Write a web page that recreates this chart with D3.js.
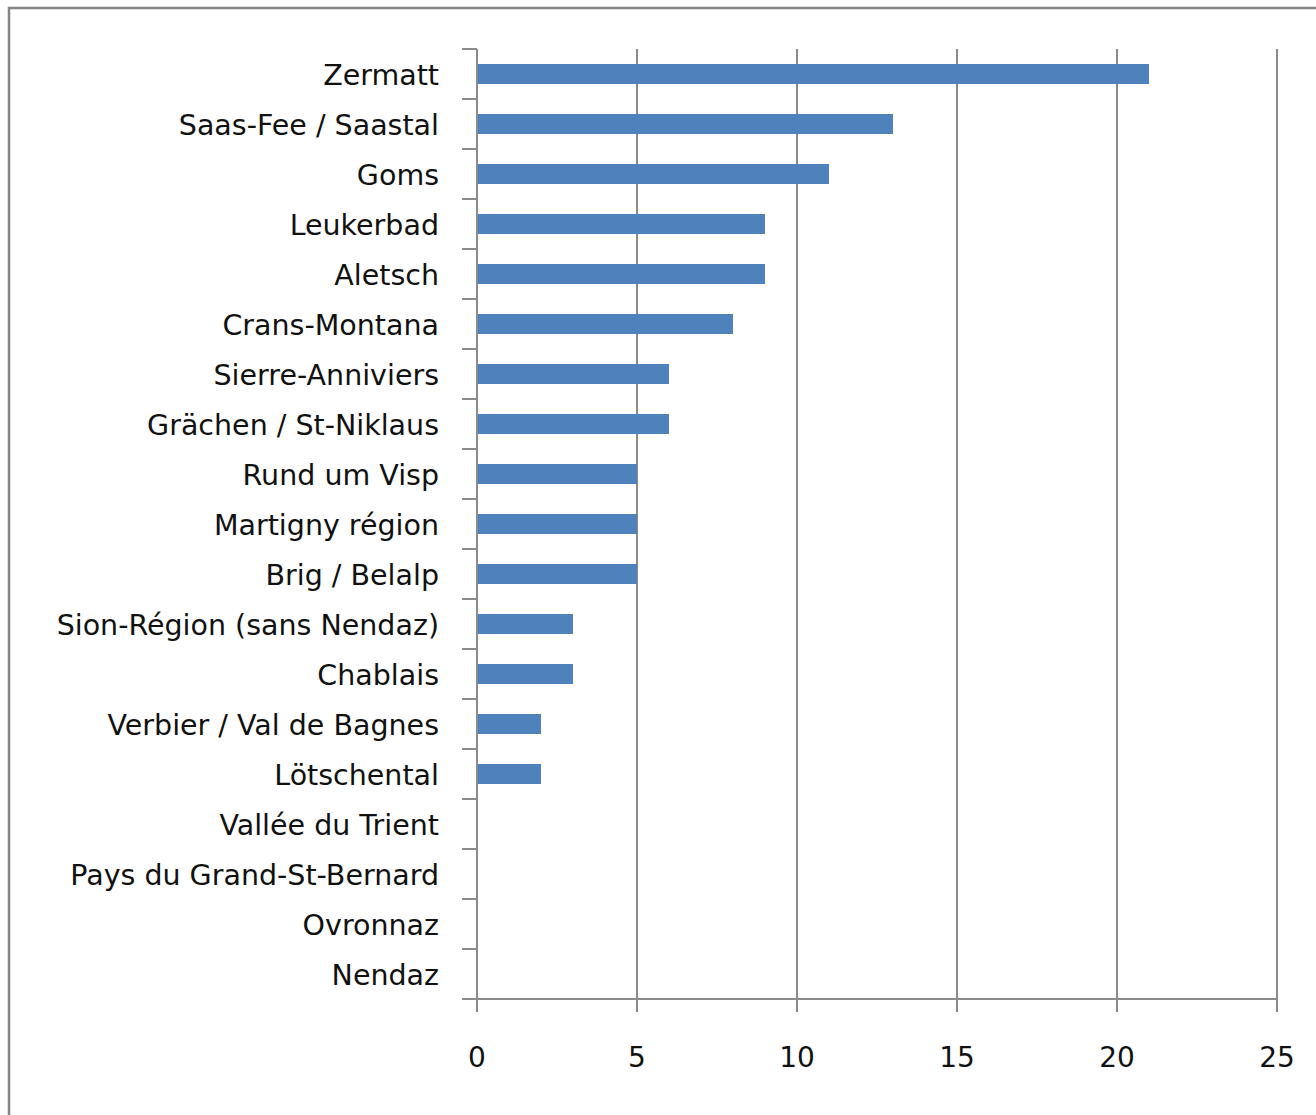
<!DOCTYPE html>
<html><head><meta charset="utf-8">
<script src="https://cdn.jsdelivr.net/npm/d3@7"></script>
<style>body{margin:0;background:#fff}</style>
</head><body>
<svg id="c" width="1316" height="1115"></svg>
<script>
const categories = ["Zermatt","Saas-Fee / Saastal","Goms","Leukerbad","Aletsch","Crans-Montana","Sierre-Anniviers","Grächen / St-Niklaus","Rund um Visp","Martigny région","Brig / Belalp","Sion-Région (sans Nendaz)","Chablais","Verbier / Val de Bagnes","Lötschental","Vallée du Trient","Pays du Grand-St-Bernard","Ovronnaz","Nendaz"];
const values = [21,13,11,9,9,8,6,6,5,5,5,3,3,2,2,0,0,0,0];
const xTicks = [0,5,10,15,20,25];

const svg = d3.select("#c");
const font = "'DejaVu Sans', Verdana, sans-serif";
// frame
svg.append("path").attr("d","M9,1115 V8 H1316").attr("fill","none").attr("stroke","#858585").attr("stroke-width",2.5);

const x = d3.scaleLinear().domain([0,25]).range([477,1277]);
const y = d3.scaleBand().domain(categories).range([49,999]).paddingInner(0.6).paddingOuter(0.3);
const yb = d3.scaleBand().domain(categories).range([49,999]);

// gridlines
svg.append("g").selectAll("line").data(xTicks.slice(1)).join("line")
  .attr("x1",d=>x(d)).attr("x2",d=>x(d)).attr("y1",49).attr("y2",1012)
  .attr("stroke","#8a8a8a").attr("stroke-width",2);

// bars
svg.append("g").selectAll("rect").data(values).join("rect")
  .attr("x",x(0)).attr("y",(d,i)=>y(categories[i])).attr("width",d=>x(d)-x(0)).attr("height",y.bandwidth())
  .attr("fill","#4F81BD");

// y axis line + ticks
svg.append("line").attr("x1",477).attr("x2",477).attr("y1",49).attr("y2",1012).attr("stroke","#8a8a8a").attr("stroke-width",2);
const bounds = categories.map(c=>yb(c)).concat([999]);
svg.append("g").selectAll("line").data(bounds).join("line")
  .attr("x1",462).attr("x2",477).attr("y1",d=>d).attr("y2",d=>d).attr("stroke","#8a8a8a").attr("stroke-width",2);
// x axis line
svg.append("line").attr("x1",462).attr("x2",1277).attr("y1",999).attr("y2",999).attr("stroke","#8a8a8a").attr("stroke-width",2);

// y labels
svg.append("g").selectAll("text").data(categories).join("text")
  .attr("x",439).attr("y",d=>yb(d)+yb.bandwidth()/2+1).attr("dy","0.35em")
  .attr("text-anchor","end").attr("font-family",font).attr("font-size",28.5).attr("fill","#111").text(d=>d);

// x labels
svg.append("g").selectAll("text").data(xTicks).join("text")
  .attr("x",d=>x(d)).attr("y",1057).attr("dy","0.35em").attr("text-anchor","middle")
  .attr("font-family",font).attr("font-size",28).attr("fill","#111").text(d=>d);
</script>
</body></html>
